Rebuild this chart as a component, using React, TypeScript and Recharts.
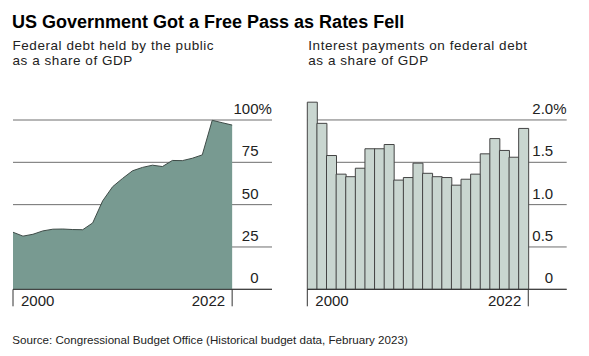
import { AreaChart, Area, BarChart, Bar, XAxis, YAxis, CartesianGrid } from "recharts";

// fiscal years shown in both panels
const years = [
  2000, 2001, 2002, 2003, 2004, 2005, 2006, 2007, 2008, 2009, 2010, 2011,
  2012, 2013, 2014, 2015, 2016, 2017, 2018, 2019, 2020, 2021, 2022,
];
// federal debt held by the public, % of GDP
const debtShare = [
  33.7, 31.4, 32.5, 34.5, 35.5, 35.6, 35.3, 35.2, 39.2, 52.2, 60.6, 65.5,
  70.0, 72.0, 73.3, 72.5, 76.1, 76.0, 77.4, 79.4, 99.8, 98.4, 97.0,
];
// net interest payments, % of GDP
const interestShare = [
  2.21, 1.96, 1.58, 1.36, 1.33, 1.43, 1.66, 1.66, 1.71, 1.29, 1.32, 1.49,
  1.37, 1.33, 1.32, 1.23, 1.3, 1.36, 1.6, 1.78, 1.64, 1.56, 1.9,
];
// empty slots after the last bar so the gridlines run under the labels
const spareYears = [2023, 2024, 2025, 2026];

const debtTicks = [0, 25, 50, 75, 100];
const debtTickLabels = ["0", "25", "50", "75", "100"];
const interestTicks = [0, 0.5, 1, 1.5, 2];
const interestTickLabels = ["0", "0.5", "1.0", "1.5", "2.0"];
const yearLabels = [2000, 2022];

const debtData = years.map((year, i) => ({ year, debt: debtShare[i] }));
const interestData = [
  ...years.map((year, i) => ({ year, interest: interestShare[i] })),
  ...spareYears.map((year) => ({ year, interest: null })),
];

const FONT = '"Liberation Sans", Arial, sans-serif';
const GRID = "#6e6e6e";
const AXIS = "#333";

const makeYTick = (ticks: number[], labels: string[]) => (props: any) => {
  const { x, y, payload } = props;
  const i = ticks.indexOf(Number(payload.value));
  const top = i === ticks.length - 1;
  return (
    <g>
      <text x={x - 13.5} y={y - 6} textAnchor="end" fontSize={15} fill="#222">
        {labels[i]}
      </text>
      {top && (
        <text x={x - 13.5} y={y - 6} textAnchor="start" fontSize={15} fill="#222">
          %
        </text>
      )}
    </g>
  );
};

const XTick = (props: any) => {
  const { x, y, payload } = props;
  const year = Number(payload.value);
  if (!yearLabels.includes(year)) return <g />;
  const half = payload.offset ?? 0;
  const first = year === yearLabels[0];
  const edge = first ? x - half : x + half;
  return (
    <g>
      <line x1={edge} x2={edge} y1={y} y2={y + 17} stroke={AXIS} strokeWidth={1} />
      <text
        x={first ? edge + 8 : edge - 7}
        y={y + 16.5}
        textAnchor={first ? "start" : "end"}
        fontSize={15}
        fill="#222"
      >
        {year}
      </text>
    </g>
  );
};

const subtitle = {
  position: "absolute" as const,
  top: 37.5,
  fontSize: 13.5,
  lineHeight: "15.1px",
  letterSpacing: 0.55,
  whiteSpace: "nowrap" as const,
};

export default function App() {
  return (
    <div
      style={{
        position: "absolute",
        left: 0,
        top: 0,
        width: 589,
        height: 356,
        background: "#fff",
        fontFamily: FONT,
        color: "#222",
      }}
    >
      <div
        style={{
          position: "absolute",
          left: 12,
          top: 13.3,
          fontSize: 18,
          lineHeight: 1,
          fontWeight: 700,
          color: "#000",
          whiteSpace: "nowrap",
        }}
      >
        US Government Got a Free Pass as Rates Fell
      </div>
      <div style={{ ...subtitle, left: 12.5 }}>
        Federal debt held by the public
        <br />
        as a share of GDP
      </div>
      <div style={{ ...subtitle, left: 308.3 }}>
        Interest payments on federal debt
        <br />
        as a share of GDP
      </div>

      <div style={{ position: "absolute", left: 0, top: 0 }}>
        <AreaChart
          width={290}
          height={356}
          data={debtData}
          margin={{ top: 120, right: 17, bottom: 36.7, left: 13 }}
        >
          <CartesianGrid vertical={false} syncWithTicks stroke={GRID} strokeWidth={1} />
          <XAxis
            dataKey="year"
            type="number"
            domain={[2000, 2026]}
            ticks={yearLabels}
            interval={0}
            height={30}
            tickSize={0}
            tickMargin={0}
            tickLine={false}
            axisLine={{ stroke: AXIS, strokeWidth: 1 }}
            tick={XTick}
          />
          <YAxis
            orientation="right"
            width={1}
            domain={[0, 100]}
            ticks={debtTicks}
            interval={0}
            tickSize={0}
            tickMargin={0}
            tickLine={false}
            axisLine={false}
            tick={makeYTick(debtTicks, debtTickLabels)}
          />
          <Area
            type="linear"
            dataKey="debt"
            fill="#789a91"
            fillOpacity={1}
            stroke="#3e4b47"
            strokeWidth={1}
            isAnimationActive={false}
          />
        </AreaChart>
      </div>

      <div style={{ position: "absolute", left: 290, top: 0 }}>
        <BarChart
          width={299}
          height={356}
          data={interestData}
          barCategoryGap={0}
          barGap={0}
          margin={{ top: 98.8, right: 21.3, bottom: 36.7, left: 17.3 }}
        >
          <CartesianGrid vertical={false} syncWithTicks stroke={GRID} strokeWidth={1} />
          <XAxis
            dataKey="year"
            type="category"
            interval={0}
            height={30}
            tickSize={0}
            tickMargin={0}
            tickLine={false}
            axisLine={{ stroke: AXIS, strokeWidth: 1 }}
            tick={XTick}
          />
          <YAxis
            orientation="right"
            width={1}
            domain={[0, 2.25]}
            ticks={interestTicks}
            interval={0}
            tickSize={0}
            tickMargin={0}
            tickLine={false}
            axisLine={false}
            tick={makeYTick(interestTicks, interestTickLabels)}
          />
          <Bar
            dataKey="interest"
            fill="#c9d6d0"
            stroke="#444"
            strokeWidth={1}
            isAnimationActive={false}
          />
        </BarChart>
      </div>

      <div
        style={{
          position: "absolute",
          left: 12.3,
          top: 333.5,
          fontSize: 11.6,
          lineHeight: 1,
          whiteSpace: "nowrap",
        }}
      >
        Source: Congressional Budget Office (Historical budget data, February 2023)
      </div>
    </div>
  );
}
